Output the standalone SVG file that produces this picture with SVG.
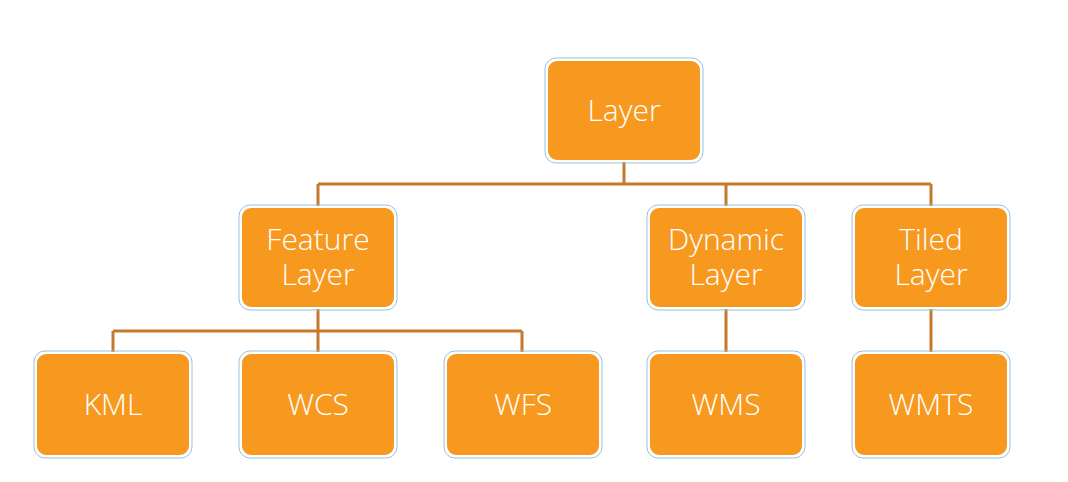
<svg xmlns="http://www.w3.org/2000/svg" width="1068" height="482" viewBox="0 0 1068 482">
<style>
.box{fill:#f7991f;stroke:#ffffff;stroke-width:2}
.halo{fill:none;stroke:#9dbfdc;stroke-width:1}
.lbl{font-family:"Open Sans",Lato,sans-serif;font-weight:300;font-size:30px;fill:#ffffff;text-anchor:middle}
.con{fill:none;stroke:#c47a2a;stroke-width:3}
</style>
<rect width="1068" height="482" fill="#ffffff"/>
<g id="connectors">
<path class="con" d="M624 162V184M318 184H931M318 184V206M726 184V206M931 184V206"/>
<path class="con" d="M318 309V352M113 331H522M113 331V352M522 331V352"/>
<path class="con" d="M726 309V352M931 309V352"/>
</g>
<g id="layer"><rect class="halo" x="545" y="58" width="158" height="105" rx="11"/><rect class="box" x="547" y="60" width="154" height="101" rx="10"/><text class="lbl" x="624" y="121">Layer</text></g>
<g id="feature"><rect class="halo" x="239" y="205" width="158" height="105" rx="11"/><rect class="box" x="241" y="207" width="154" height="101" rx="10"/><text class="lbl" x="318" y="250">Feature</text><text class="lbl" x="318" y="285">Layer</text></g>
<g id="dynamic"><rect class="halo" x="647" y="205" width="158" height="105" rx="11"/><rect class="box" x="649" y="207" width="154" height="101" rx="10"/><text class="lbl" x="726" y="250">Dynamic</text><text class="lbl" x="726" y="285">Layer</text></g>
<g id="tiled"><rect class="halo" x="852" y="205" width="158" height="105" rx="11"/><rect class="box" x="854" y="207" width="154" height="101" rx="10"/><text class="lbl" x="931" y="250">Tiled</text><text class="lbl" x="931" y="285">Layer</text></g>
<g id="kml"><rect class="halo" x="34" y="351" width="158" height="107" rx="11"/><rect class="box" x="36" y="353" width="154" height="103" rx="10"/><text class="lbl" x="113" y="415">KML</text></g>
<g id="wcs"><rect class="halo" x="239" y="351" width="158" height="107" rx="11"/><rect class="box" x="241" y="353" width="154" height="103" rx="10"/><text class="lbl" x="318" y="415">WCS</text></g>
<g id="wfs"><rect class="halo" x="444" y="351" width="158" height="107" rx="11"/><rect class="box" x="446" y="353" width="154" height="103" rx="10"/><text class="lbl" x="523" y="415">WFS</text></g>
<g id="wms"><rect class="halo" x="647" y="351" width="158" height="107" rx="11"/><rect class="box" x="649" y="353" width="154" height="103" rx="10"/><text class="lbl" x="726" y="415">WMS</text></g>
<g id="wmts"><rect class="halo" x="852" y="351" width="158" height="107" rx="11"/><rect class="box" x="854" y="353" width="154" height="103" rx="10"/><text class="lbl" x="931" y="415">WMTS</text></g>
</svg>
